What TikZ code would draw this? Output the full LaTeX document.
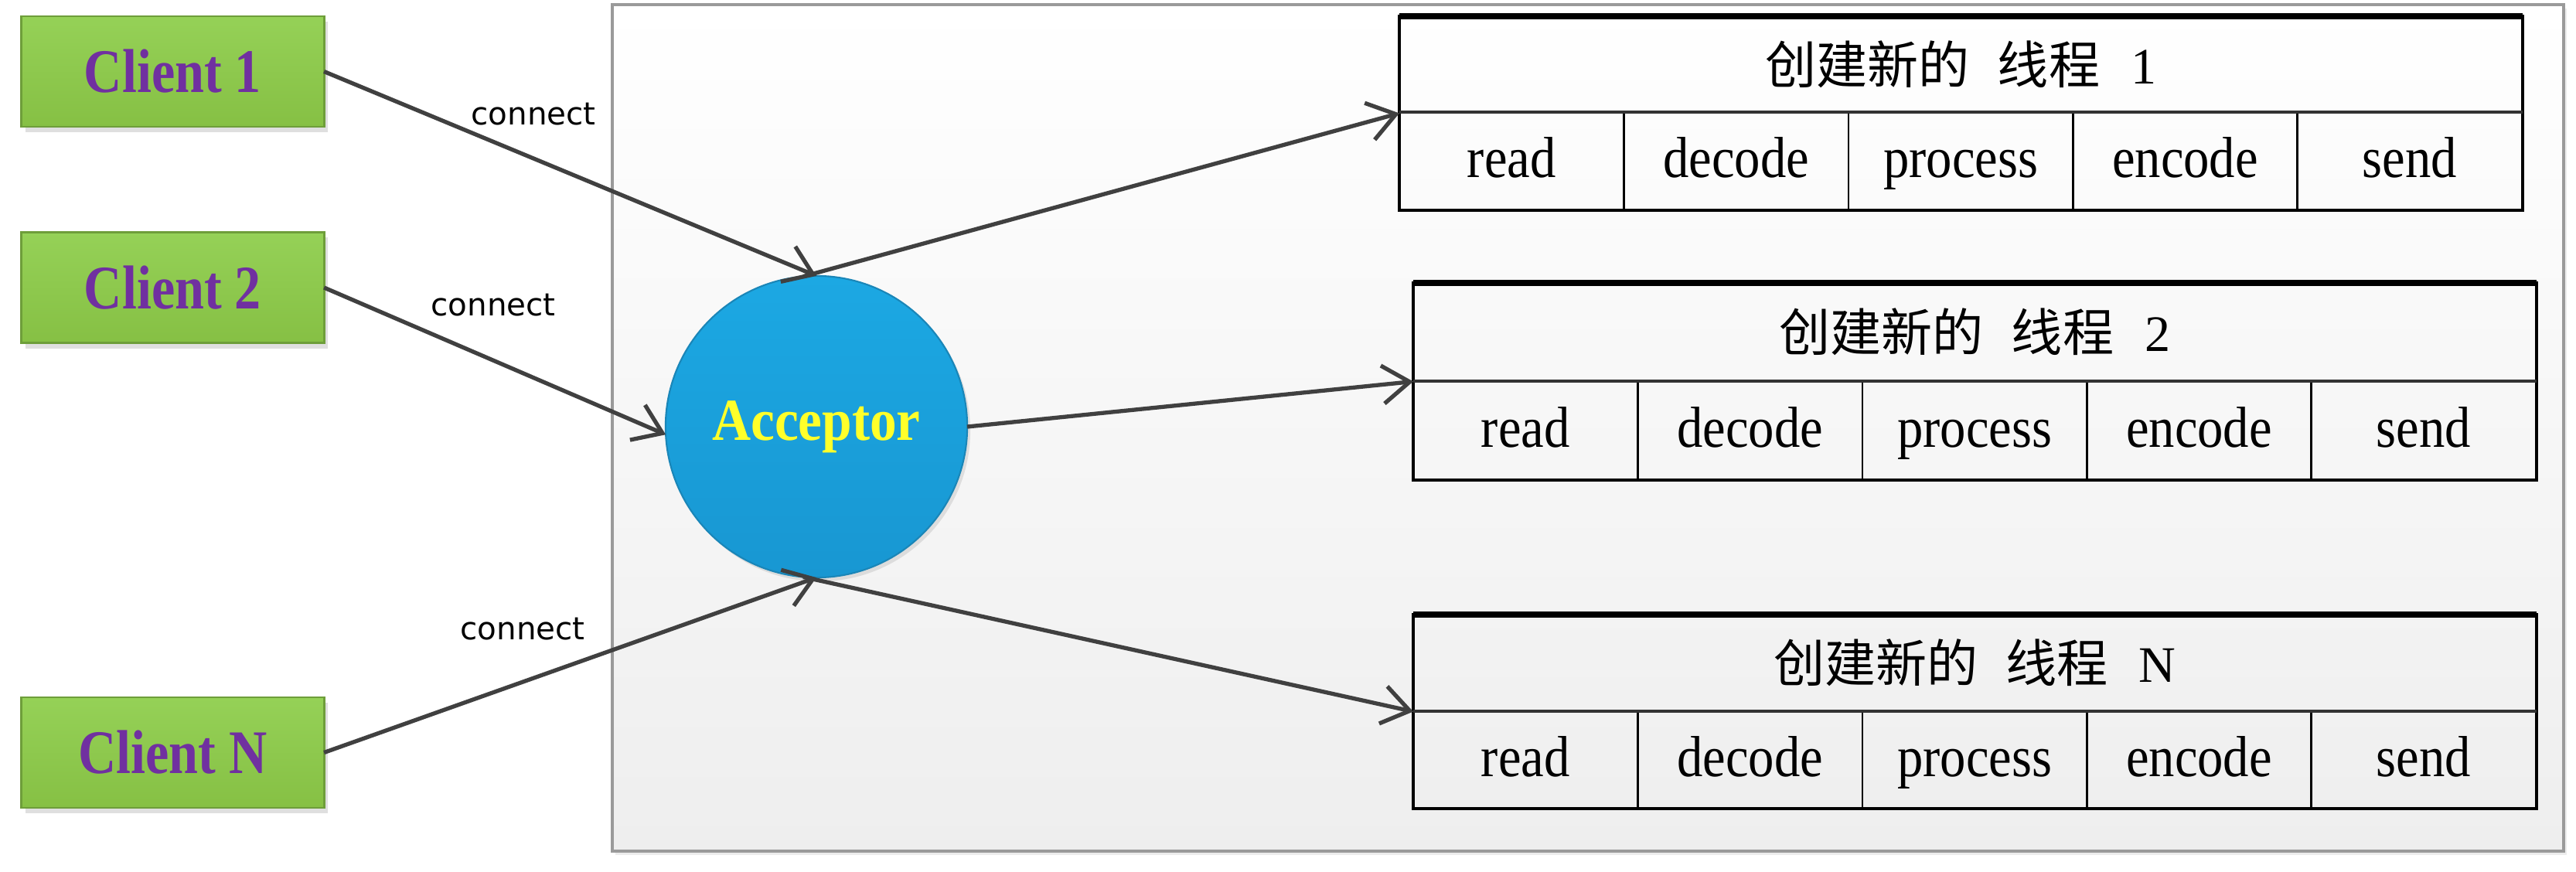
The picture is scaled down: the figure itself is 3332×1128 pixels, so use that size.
\documentclass[tikz,border=0pt]{standalone}
\usepackage{fontspec}
\setmainfont{Liberation Serif}
\newfontfamily\cjkfont{Noto Sans CJK SC}
\newfontfamily\clientfont[FakeStretch=0.85]{Liberation Serif}
\newfontfamily\accfont[FakeStretch=0.9]{Liberation Serif}
\newfontfamily\cellfont[FakeStretch=0.89]{Liberation Serif}
\newfontfamily\labfont{DejaVu Sans}
\usetikzlibrary{arrows.meta,shadows,calc}
\definecolor{cgreen}{HTML}{8FCB50}
\definecolor{cgreentop}{HTML}{95D157}
\definecolor{cgreenbot}{HTML}{86C044}
\definecolor{cborder}{HTML}{6E9E3A}
\definecolor{cpurple}{HTML}{7030A0}
\definecolor{accblue}{HTML}{1CA8E3}
\definecolor{accbluebot}{HTML}{1897D2}
\definecolor{accborder}{HTML}{1A86B8}
\definecolor{accyellow}{HTML}{FFFF2A}
\definecolor{linegray}{HTML}{404040}
\definecolor{panelborder}{HTML}{9A9A9A}
\definecolor{panelbot}{HTML}{EEEEEE}
\tikzset{
  client/.style={draw=cborder, line width=0.8pt, top color=cgreentop, bottom color=cgreenbot,
    minimum width=3.91cm, minimum height=1.43cm, inner sep=0, outer sep=0,
    drop shadow={shadow xshift=0.05cm, shadow yshift=-0.07cm, opacity=0.25},
    text=cpurple, font=\clientfont\bfseries\fontsize{22.8}{26}\selectfont},
  acceptor/.style={circle, draw=accborder, line width=0.6pt, top color=accblue, bottom color=accbluebot,
    minimum size=3.9cm, inner sep=0, outer sep=0,
    drop shadow={shadow xshift=0.04cm, shadow yshift=-0.05cm, opacity=0.2},
    text=accyellow, font=\accfont\bfseries\fontsize{21.9}{24}\selectfont},
  panel/.style={draw=panelborder, line width=1.1pt, top color=white, bottom color=panelbot,
    minimum width=25.22cm, minimum height=10.95cm, inner sep=0,
    drop shadow={shadow xshift=0.04cm, shadow yshift=-0.05cm, opacity=0.15}},
  conn/.style={draw=linegray, line width=1.5pt, -{Straight Barb[length=10pt,width=14pt,line width=1.5pt]}},
  clabel/.style={font=\labfont\fontsize{11.5}{13}\selectfont, text=black, inner sep=0},
  tcell/.style={draw=black, line width=0.7pt, inner sep=0, outer sep=0, anchor=north west,
    text height=14.5pt, text depth=2.5pt,
    font=\cellfont\fontsize{21.3}{24}\selectfont},
  thead/.style={inner sep=0, outer sep=0, anchor=north west, minimum width=14.52cm},
  tframe/.style={inner sep=0, outer sep=0, anchor=north west, minimum width=14.52cm}
}
\begin{document}
\begin{tikzpicture}[x=0.01cm, y=-0.01cm]
\useasboundingbox (0,0) rectangle (3332,1128);
\fill[white] (0,0) rectangle (3332,1128);

% panel
\node[panel] (panel) at (2054,553.5) {};

% thread boxes
\foreach \n/\x/\y/\h/\hh/\num in {t1/1810/21/251/124/1, t2/1828/366/255/127/2, tN/1828/795/251/125/N}{
  \node[tframe, minimum height={\h*0.01cm}] (\n) at (\x,\y) {};
  \node[thead, minimum height={\hh*0.01cm}] (\n h) at (\x,\y)
    {{\cjkfont\fontsize{18.8}{22}\selectfont 创建新的}\hspace{0.36cm}{\cjkfont\fontsize{18.8}{22}\selectfont 线程}\hspace{0.4cm}{\fontsize{18.8}{22}\selectfont \num}};
  \foreach \w [count=\i] in {read,decode,process,encode,send}{
    \node[tcell, minimum width=2.904cm, minimum height={(\h-\hh)*0.01cm}] (\n c\i) at ({\x+290.4*(\i-1)},{\y+\hh}) {\w};
  }
  \draw[line width=1.1pt] (\n.north west) rectangle (\n.south east);
  \draw[line width=2pt] (\n.north west) -- (\n.north east);
  \draw[line width=1.3pt, black!80] (\n h.south west) -- (\n h.south east);
}

% clients
\node[client] (c1) at (223.5,92.5) {Client 1};
\node[client] (c2) at (223.5,372) {Client 2};
\node[client] (cN) at (223.5,973.5) {Client N};

% acceptor
\node[acceptor] (acc) at (1056,552) {Acceptor};

% connectors
\draw[conn] (c1.east) -- (acc.north);
\draw[conn] (c2.east) -- (acc.183);
\draw[conn] (cN.east) -- (acc.south);
\draw[conn] (acc.95) -- (t1.west);
\draw[conn] (acc.east) -- (t2.west);
\draw[conn] (acc.265) -- (tN.west);

% labels
\node[clabel] (l1) at (690,148) {connect};
\node[clabel] (l2) at (638,395) {connect};
\node[clabel] (l3) at (676,814) {connect};
\end{tikzpicture}
\end{document}
